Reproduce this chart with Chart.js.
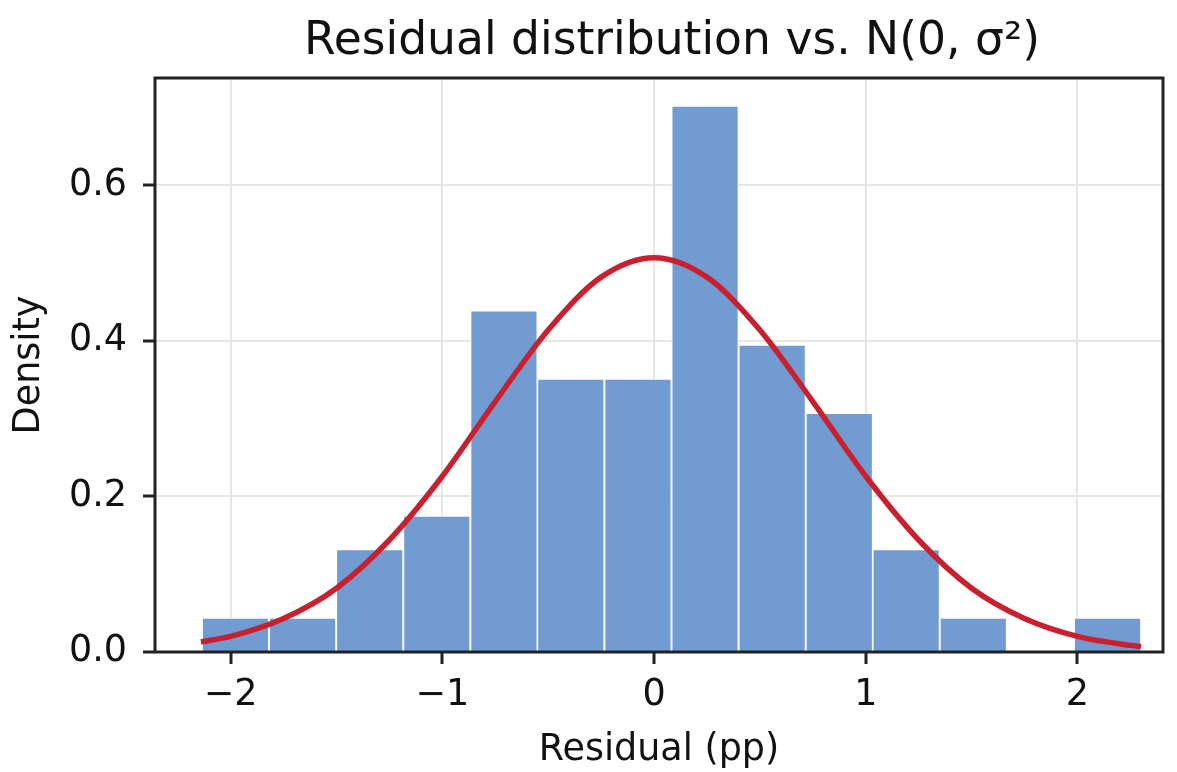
<!DOCTYPE html>
<html>
<head>
<meta charset="utf-8">
<title>Residual distribution</title>
<script src="https://cdn.jsdelivr.net/npm/chart.js"></script>
<style>
  html, body { margin: 0; padding: 0; background: #fff; }
  #wrap { width: 1177px; height: 772px; }
</style>
</head>
<body>
<div id="wrap"><canvas id="residChart"></canvas></div>
<script>
// histogram bins (centres) and densities
const binCentres = [-1.977, -1.660, -1.343, -1.026, -0.709, -0.393, -0.076, 0.241, 0.558, 0.875, 1.191, 1.508, 1.825, 2.142];
const binDensity = [0.044, 0.044, 0.132, 0.175, 0.439, 0.351, 0.351, 0.702, 0.395, 0.307, 0.132, 0.044, 0, 0.044];

// fitted normal curve
const curveX = [-2.14, -2.0, -1.75, -1.5, -1.25, -1.0, -0.75, -0.5, -0.25, 0, 0.25, 0.5, 0.75, 1.0, 1.25, 1.5, 1.75, 2.0, 2.25, 2.30];
const curveY = [0.013, 0.020, 0.043, 0.082, 0.144, 0.226, 0.322, 0.414, 0.482, 0.507, 0.482, 0.414, 0.322, 0.226, 0.144, 0.082, 0.043, 0.020, 0.0085, 0.007];

const xTicks = [-2, -1, 0, 1, 2];
const yTicks = [0, 0.2, 0.4, 0.6];
const chartTitle = 'Residual distribution vs. N(0, σ²)';

Chart.defaults.font.family = "'DejaVu Sans', sans-serif";
Chart.defaults.color = '#111';

// matplotlib style box round the plot area, title centred over the axes
const frame = {
    id: 'frame',
    afterDatasetsDraw(chart) {
        const a = chart.chartArea;
        const ctx = chart.ctx;
        ctx.save();
        ctx.strokeStyle = '#222';
        ctx.lineWidth = 3;
        ctx.strokeRect(a.left, a.top, a.right - a.left, a.bottom - a.top);
        ctx.restore();
    },
    afterDraw(chart) {
        const a = chart.chartArea;
        const ctx = chart.ctx;
        ctx.save();
        ctx.fillStyle = '#111';
        ctx.font = "45.6px 'DejaVu Sans', sans-serif";
        ctx.textAlign = 'center';
        ctx.textBaseline = 'middle';
        ctx.fillText(chartTitle, (a.left + a.right) / 2 + 13, 42);
        ctx.restore();
    }
};

new Chart(document.getElementById('residChart'), {
    type: 'bar',
    data: {
        datasets: [{
            type: 'line',
            data: curveX.map((x, i) => ({ x: x, y: curveY[i] })),
            borderColor: '#c8202f',
            borderWidth: 5.5,
            pointRadius: 0,
            cubicInterpolationMode: 'monotone',
            order: 1
        }, {
            data: binCentres.map((x, i) => ({ x: x, y: binDensity[i] })),
            backgroundColor: '#729bd2',
            borderColor: 'rgba(255,255,255,0.9)',
            borderWidth: 1.2,
            barPercentage: 1,
            categoryPercentage: 1,
            order: 2
        }]
    },
    options: {
        responsive: true,
        maintainAspectRatio: false,
        animation: false,
        layout: { padding: { left: 0, right: 14, top: 78, bottom: 0 } },
        plugins: {
            legend: { display: false },
            tooltip: { enabled: false },
            title: { display: false }
        },
        scales: {
            x: {
                type: 'linear',
                min: -2.357,
                max: 2.404,
                offset: false,
                afterFit: s => { s.height = 120; },
                afterBuildTicks: s => { s.ticks = xTicks.map(v => ({ value: v })); },
                ticks: {
                    font: { size: 36.5 },
                    padding: 10,
                    maxRotation: 0,
                    callback: v => (v < 0 ? '\u2212' + Math.abs(v) : String(v))
                },
                grid: {
                    offset: false,
                    color: '#e6e6e6',
                    lineWidth: 2,
                    tickColor: '#222',
                    tickWidth: 3,
                    tickLength: 12
                },
                border: { display: false },
                title: {
                    display: true,
                    text: 'Residual (pp)',
                    font: { size: 36.5 },
                    padding: { top: 0, bottom: 0 }
                }
            },
            y: {
                min: 0,
                max: 0.738,
                afterFit: s => { s.width = 155; },
                afterBuildTicks: s => { s.ticks = yTicks.map(v => ({ value: v })); },
                ticks: {
                    font: { size: 36.5 },
                    padding: 16,
                    callback: v => v.toFixed(1)
                },
                grid: {
                    color: '#e6e6e6',
                    lineWidth: 2,
                    tickColor: '#222',
                    tickWidth: 3,
                    tickLength: 12
                },
                border: { display: false },
                title: {
                    display: true,
                    text: 'Density',
                    font: { size: 36.5 },
                    padding: { top: 8, bottom: 0 }
                }
            }
        }
    },
    plugins: [frame]
});
</script>
</body>
</html>
